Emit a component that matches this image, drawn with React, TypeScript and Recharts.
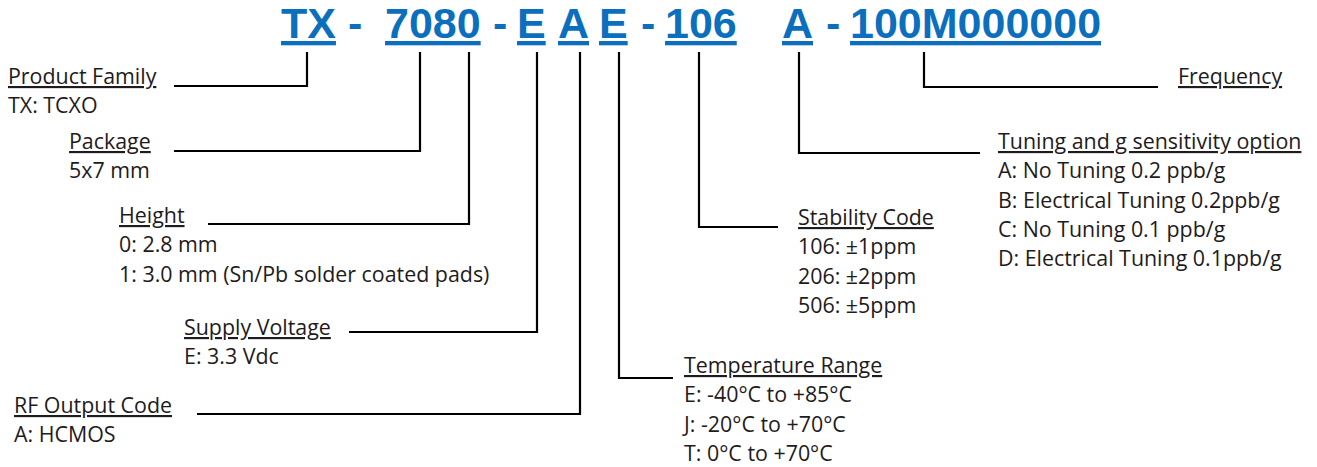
import React from 'react';
import { ComposedChart, XAxis, YAxis, Line, Scatter } from 'recharts';

const W = 1317;
const H = 467;

// Part-number code segments
const codeText = ['TX', '-', '7080', '-', 'E', 'A', 'E', '-', '106', 'A', '-', '100M000000'];
const codeX = [281, 348, 385, 493, 517, 558, 599, 641, 665, 782, 826, 850];
const codeUnderlined = [true, false, true, false, true, true, true, false, true, true, false, true];
const codeBaseline = 38;

// Field labels
const fieldTitles = [
  'Product Family',
  'Package',
  'Height',
  'Supply Voltage',
  'RF Output Code',
  'Temperature Range',
  'Stability Code',
  'Tuning and g sensitivity option',
  'Frequency',
];
const fieldOptions = [
  ['TX: TCXO'],
  ['5x7 mm'],
  ['0: 2.8 mm', '1: 3.0 mm (Sn/Pb solder coated pads)'],
  ['E: 3.3 Vdc'],
  ['A: HCMOS'],
  ['E: -40°C to +85°C', 'J: -20°C to +70°C', 'T: 0°C to +70°C'],
  ['106: ±1ppm', '206: ±2ppm', '506: ±5ppm'],
  ['A: No Tuning 0.2 ppb/g', 'B: Electrical Tuning 0.2ppb/g', 'C: No Tuning 0.1 ppb/g', 'D: Electrical Tuning 0.1ppb/g'],
  [],
];
const fieldX = [8, 69, 119, 184, 14, 684, 798, 998, 1178];
const fieldBaseline = [84, 149, 223, 335, 413, 373, 225, 149, 84];
const optionStep = 29.3;

// Connector lines: vertical from the code down, then horizontal to the label
const connectorX = [307, 420, 469, 537, 580, 619, 699, 799, 924];
const connectorElbowY = [86, 151, 224, 332, 414, 378, 227, 153, 87];
const connectorEndX = [174, 174, 208, 349, 197, 673, 778, 980, 1158];
const connectorTop = 52;

const BLUE = '#0B6FBE';
const INK = '#1E1B1C';
const LABEL_FONT = '"Open Sans", "Noto Sans", sans-serif';

const connectors = connectorX.map((cx, i) => [
  { x: cx, y: connectorTop },
  { x: cx, y: connectorElbowY[i] },
  { x: connectorEndX[i], y: connectorElbowY[i] },
]);

type TextPoint = { x: number; y: number; text: string; kind: 'code' | 'title' | 'option'; underline: boolean };

const textPoints: TextPoint[] = [
  ...codeText.map((t, i) => ({ x: codeX[i], y: codeBaseline, text: t, kind: 'code' as const, underline: codeUnderlined[i] })),
  ...fieldTitles.map((t, i) => ({ x: fieldX[i], y: fieldBaseline[i], text: t, kind: 'title' as const, underline: true })),
  ...fieldOptions.flatMap((opts, i) =>
    opts.map((t, j) => ({ x: fieldX[i], y: fieldBaseline[i] + optionStep * (j + 1), text: t, kind: 'option' as const, underline: false }))
  ),
];

const TextShape = (props: any) => {
  const { cx, cy, payload } = props;
  if (cx == null || cy == null || !payload) return null;
  const isCode = payload.kind === 'code';
  return (
    <text
      x={cx}
      y={cy}
      textAnchor="start"
      fill={isCode ? BLUE : INK}
      fontFamily={isCode ? '"Liberation Sans", Arial, sans-serif' : LABEL_FONT}
      fontWeight={isCode ? 700 : 400}
      fontSize={isCode ? 43 : 21.4}
      style={{ textDecoration: payload.underline ? 'underline' : 'none' }}
    >
      {payload.text}
    </text>
  );
};

export default function App() {
  return (
    <div style={{ position: 'absolute', left: 0, top: 0, background: '#fff' }}>
      <ComposedChart width={W} height={H} margin={{ top: 0, right: 0, bottom: 0, left: 0 }}>
        <XAxis type="number" dataKey="x" domain={[0, W]} hide allowDataOverflow />
        <YAxis type="number" dataKey="y" domain={[0, H]} reversed hide allowDataOverflow />
        {connectors.map((pts, i) => (
          <Line
            key={i}
            data={pts}
            dataKey="y"
            type="linear"
            stroke="#000"
            strokeWidth={2.2}
            strokeLinejoin="miter"
            dot={false}
            activeDot={false}
            isAnimationActive={false}
          />
        ))}
        <Scatter data={textPoints} dataKey="y" shape={TextShape} isAnimationActive={false} />
      </ComposedChart>
    </div>
  );
}
